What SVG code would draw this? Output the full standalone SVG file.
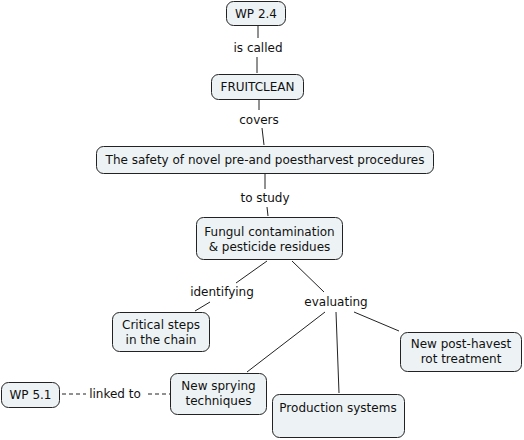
<svg xmlns="http://www.w3.org/2000/svg" width="524" height="440" viewBox="0 0 524 440">
<style>
.n rect{fill:#edf3f5;stroke:#222;stroke-width:1}
text{font-family:"DejaVu Sans",Verdana,sans-serif;font-size:12px;fill:#111;text-anchor:middle}
.c line{stroke:#222;stroke-width:1}
.c .d{stroke-dasharray:4,3}
</style>
<rect width="524" height="440" fill="#fff"/>
<g class="c">
<line x1="258" y1="26" x2="258" y2="38"/>
<line x1="257" y1="57" x2="257" y2="73"/>
<line x1="259" y1="100" x2="259" y2="110"/>
<line x1="262" y1="128" x2="264" y2="145"/>
<line x1="265" y1="174" x2="265" y2="189"/>
<line x1="267" y1="207" x2="268" y2="216"/>
<line x1="267" y1="261" x2="236" y2="283"/>
<line x1="210" y1="302" x2="195" y2="311"/>
<line x1="292" y1="261" x2="324" y2="292"/>
<line x1="325" y1="312" x2="247" y2="372"/>
<line x1="336" y1="312" x2="339" y2="393"/>
<line x1="354" y1="312" x2="399" y2="331"/>
<line class="d" x1="62" y1="394" x2="86" y2="394"/>
<line class="d" x1="148" y1="394" x2="170" y2="394"/>
<text x="258" y="52">is called</text>
<text x="259" y="124">covers</text>
<text x="265" y="202">to study</text>
<text x="222" y="296">identifying</text>
<text x="336" y="306">evaluating</text>
<text x="115" y="398">linked to</text>
</g>
<g id="wp24" class="n"><rect x="226.5" y="1.5" width="59" height="24" rx="7"/><text x="256" y="18">WP 2.4</text></g>
<g id="fruitclean" class="n"><rect x="211.5" y="74.5" width="92" height="25" rx="7"/><text x="257.5" y="91">FRUITCLEAN</text></g>
<g id="safety" class="n"><rect x="96.5" y="146.5" width="337" height="27" rx="7"/><text x="265" y="164">The safety of novel pre-and poestharvest procedures</text></g>
<g id="fungul" class="n"><rect x="196.5" y="217.5" width="146" height="42" rx="7"/><text x="269.5" y="236">Fungul contamination</text><text x="269.5" y="251">&amp; pesticide residues</text></g>
<g id="critical" class="n"><rect x="112.5" y="312.5" width="97" height="39" rx="7"/><text x="161" y="329">Critical steps</text><text x="161" y="344">in the chain</text></g>
<g id="posthavest" class="n"><rect x="400.5" y="332.5" width="121" height="39" rx="7"/><text x="461" y="348">New post-havest</text><text x="461" y="363">rot treatment</text></g>
<g id="spraying" class="n"><rect x="170.5" y="373.5" width="96" height="41" rx="7"/><text x="218.5" y="390">New sprying</text><text x="218.5" y="405">techniques</text></g>
<g id="production" class="n"><rect x="272.5" y="394.5" width="132" height="43" rx="7"/><text x="338" y="412">Production systems</text></g>
<g id="wp51" class="n"><rect x="1.5" y="382.5" width="58" height="25" rx="7"/><text x="30.5" y="399">WP 5.1</text></g>
</svg>
